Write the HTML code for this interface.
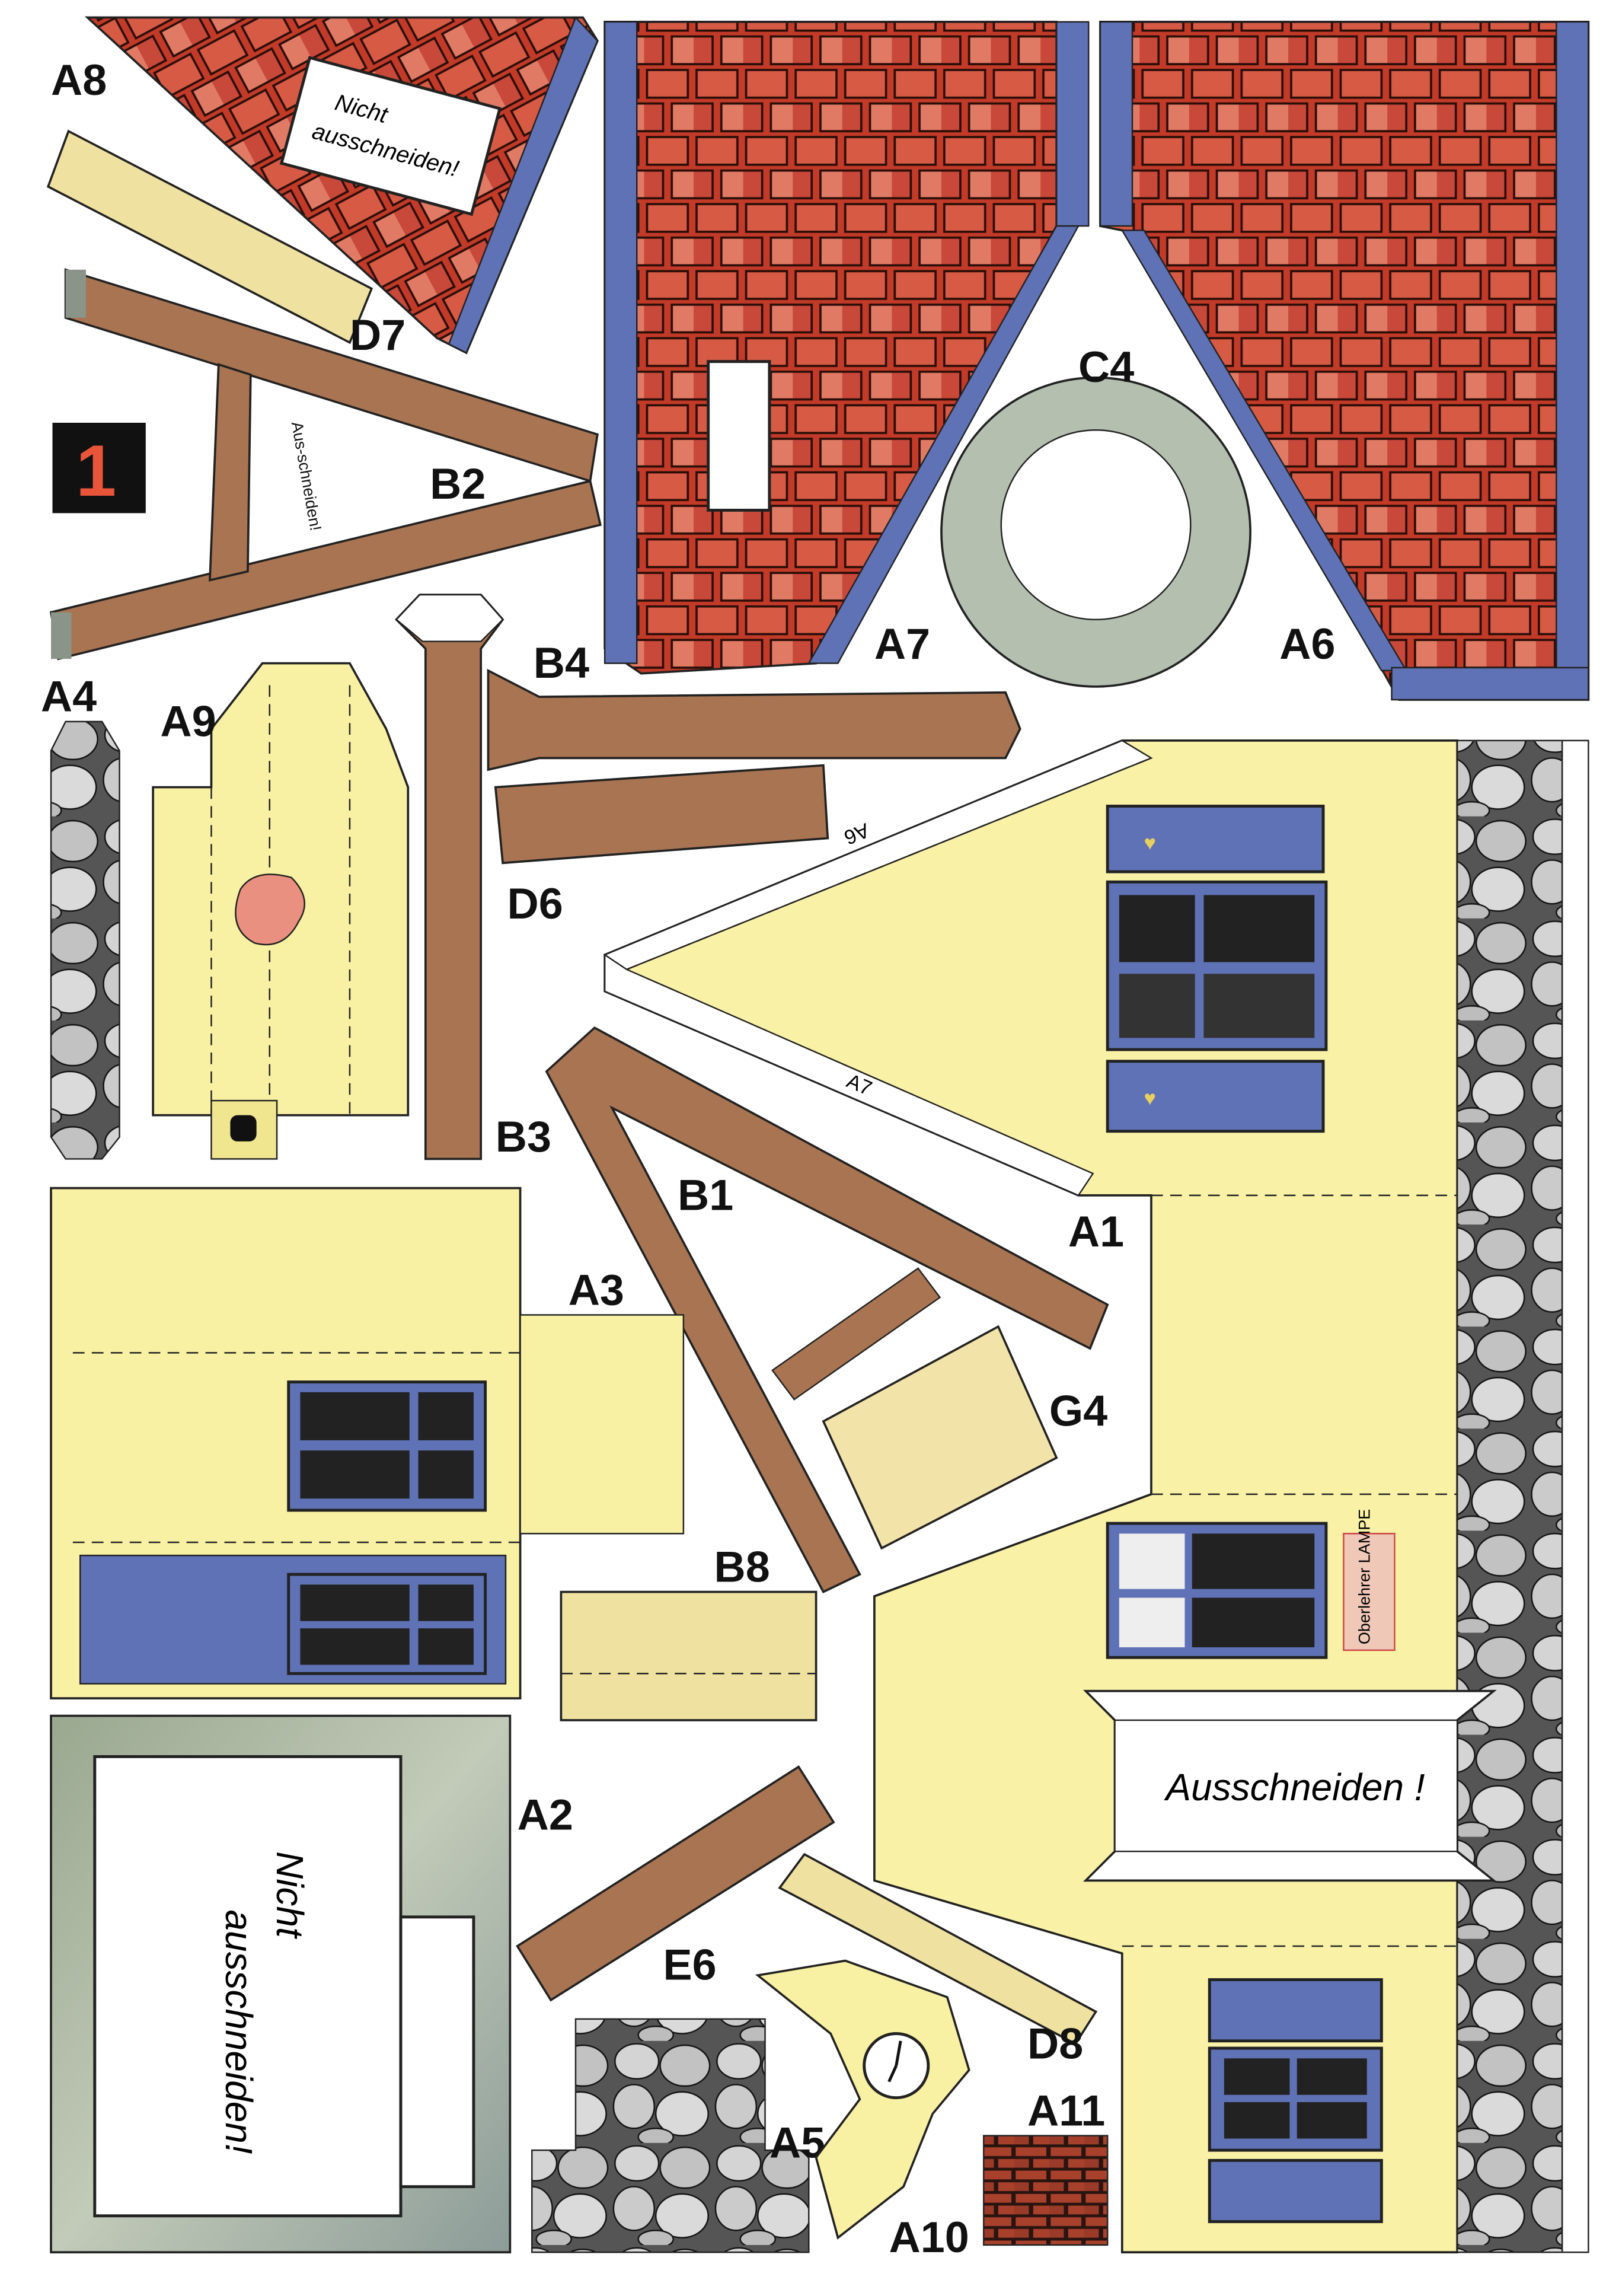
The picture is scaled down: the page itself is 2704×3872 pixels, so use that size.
<!DOCTYPE html>
<html><head><meta charset="utf-8"><style>
html,body{margin:0;padding:0;background:#fff;}
svg{display:block;}
text{font-family:"Liberation Sans",sans-serif;}
.lbl{font-size:30px;font-weight:bold;fill:#111;}
.sm{font-size:11px;fill:#111;}
</style></head><body>
<svg width="2704" height="3872" viewBox="0 0 1100 1575" preserveAspectRatio="none" xmlns="http://www.w3.org/2000/svg">
<defs>
<pattern id="tile" width="34" height="46" patternUnits="userSpaceOnUse">
<rect width="34" height="46" fill="#c23a28"/>
<rect x="2" y="2" width="28" height="19" fill="#d65a44" stroke="#2a0e08" stroke-width="1.5"/>
<rect x="-15" y="25" width="28" height="19" fill="#c8483a" stroke="#2a0e08" stroke-width="1.5"/>
<rect x="19" y="25" width="28" height="19" fill="#e07a64" stroke="#2a0e08" stroke-width="1.5"/>
</pattern>
<pattern id="tile2" width="34" height="46" patternUnits="userSpaceOnUse" patternTransform="rotate(-28)">
<rect width="34" height="46" fill="#c23a28"/>
<rect x="2" y="2" width="28" height="19" fill="#d65a44" stroke="#2a0e08" stroke-width="1.5"/>
<rect x="-15" y="25" width="28" height="19" fill="#c8483a" stroke="#2a0e08" stroke-width="1.5"/>
<rect x="19" y="25" width="28" height="19" fill="#e07a64" stroke="#2a0e08" stroke-width="1.5"/>
</pattern>
<pattern id="stone" width="70" height="70" patternUnits="userSpaceOnUse">
<rect width="70" height="70" fill="#555"/>
<ellipse cx="17" cy="14" rx="15" ry="12" fill="#d4d4d4" stroke="#111"/>
<ellipse cx="50" cy="17" rx="17" ry="14" fill="#c2c2c2" stroke="#111"/>
<ellipse cx="15" cy="45" rx="14" ry="15" fill="#cbcbcb" stroke="#111"/>
<ellipse cx="48" cy="50" rx="18" ry="15" fill="#dadada" stroke="#111"/>
<ellipse cx="30" cy="66" rx="12" ry="6" fill="#bdbdbd" stroke="#111"/>
</pattern>
<pattern id="brick" width="24" height="16" patternUnits="userSpaceOnUse">
<rect width="24" height="16" fill="#2a1410"/>
<rect x="1" y="1" width="21" height="6" fill="#a8412c"/>
<rect x="-11" y="9" width="21" height="6" fill="#9a3a28"/>
<rect x="13" y="9" width="21" height="6" fill="#a8412c"/>
</pattern>
<linearGradient id="a2g" x1="0" y1="0" x2="1" y2="1">
<stop offset="0" stop-color="#9aa890"/><stop offset="0.5" stop-color="#c2cab8"/><stop offset="1" stop-color="#8c9c98"/>
</linearGradient>
</defs>

<!-- A8 roof -->
<polygon points="60,12 400,12 410,28 320,242 300,232" fill="url(#tile2)" stroke="#222" stroke-width="1.5"/>
<polygon points="395,12 410,28 320,242 308,236" fill="#5f72b5" stroke="#222"/>
<g transform="rotate(15 265 95)"><rect x="200" y="55" width="135" height="75" fill="#fff" stroke="#222" stroke-width="2"/>
<text x="225" y="85" font-size="16" font-style="italic">Nicht</text><text x="215" y="108" font-size="16" font-style="italic">ausschneiden!</text></g>
<text x="35" y="65" class="lbl">A8</text>
<!-- D7 -->
<polygon points="47,90 255,198 240,235 33,128" fill="#efe2a0" stroke="#222" stroke-width="1.5"/>
<text x="240" y="240" class="lbl" font-size="26">D7</text>
<!-- B2 -->
<polygon points="45,185 410,298 405,330 45,218" fill="#a87451" stroke="#222" stroke-width="1.5"/>
<polygon points="35,420 405,330 412,360 40,452" fill="#a87451" stroke="#222" stroke-width="1.5"/>
<polygon points="150,250 172,257 170,392 144,398" fill="#a87451" stroke="#222" stroke-width="1.5"/>
<rect x="45" y="185" width="14" height="33" fill="#8a9488"/>
<rect x="35" y="420" width="14" height="32" fill="#8a9488"/>
<text x="295" y="342" class="lbl">B2</text>
<text x="200" y="290" class="sm" transform="rotate(80 200 290)">Aus-schneiden!</text>
<rect x="36" y="290" width="64" height="62" fill="#111"/>
<text x="52" y="340" font-size="50" font-weight="bold" fill="#e8553a">1</text>

<!-- A7 roof -->
<polygon points="415,15 725,15 725,155 560,455 440,462 415,445" fill="url(#tile)" stroke="#222" stroke-width="1.5"/>
<rect x="415" y="15" width="22" height="440" fill="#5f72b5" stroke="#222"/>
<polygon points="725,155 740,155 575,455 555,455" fill="#5f72b5" stroke="#222"/>
<rect x="725" y="15" width="22" height="140" fill="#5f72b5" stroke="#222"/>
<rect x="486" y="248" width="42" height="102" fill="#fff" stroke="#222" stroke-width="2"/>
<text x="600" y="452" class="lbl">A7</text>
<!-- A6 roof -->
<polygon points="755,15 1090,15 1090,480 960,480 780,160 755,155" fill="url(#tile)" stroke="#222" stroke-width="1.5"/>
<rect x="1068" y="15" width="22" height="465" fill="#5f72b5" stroke="#222"/>
<rect x="755" y="15" width="22" height="140" fill="#5f72b5" stroke="#222"/>
<polygon points="770,158 785,158 965,460 948,460" fill="#5f72b5" stroke="#222"/>
<rect x="955" y="458" width="135" height="22" fill="#5f72b5" stroke="#222"/>
<text x="878" y="452" class="lbl">A6</text>
<!-- C4 -->
<circle cx="752" cy="365" r="106" fill="#b4bfb0" stroke="#222" stroke-width="1.5"/>
<circle cx="752" cy="360" r="65" fill="#fff" stroke="#222"/>
<text x="740" y="262" class="lbl" font-size="28">C4</text>

<!-- A4 stone strip -->
<polygon points="45,495 70,495 82,515 82,780 70,795 45,795 35,780 35,515" fill="url(#stone)" stroke="#222"/>
<text x="28" y="488" class="lbl" font-size="26">A4</text>
<!-- A9 -->
<polygon points="105,540 145,540 145,500 180,455 240,455 265,500 280,540 280,765 105,765" fill="#f8f0a2" stroke="#222" stroke-width="1.5"/>
<line x1="145" y1="540" x2="145" y2="765" stroke="#222" stroke-dasharray="8,5"/>
<line x1="185" y1="470" x2="185" y2="765" stroke="#222" stroke-dasharray="8,5"/>
<line x1="240" y1="470" x2="240" y2="765" stroke="#222" stroke-dasharray="8,5"/>
<path d="M165,610 q10,-15 35,-8 q15,15 5,30 q-10,20 -30,15 q-20,-10 -10,-37z" fill="#e99080" stroke="#222"/>
<rect x="145" y="755" width="45" height="40" fill="#f0e690" stroke="#222"/>
<rect x="158" y="765" width="18" height="18" fill="#111" rx="5"/>
<text x="110" y="505" class="lbl" font-size="28">A9</text>

<!-- B3/B4 -->
<polygon points="272,425 288,408 330,408 345,425 330,445 330,795 292,795 292,445" fill="#a87451" stroke="#222" stroke-width="1.5"/>
<polygon points="272,425 288,408 330,408 345,425 330,440 290,440" fill="#fff" stroke="#222"/>
<polygon points="335,460 370,478 690,475 700,500 690,520 370,520 335,528" fill="#a87451" stroke="#222" stroke-width="1.5"/>
<text x="366" y="465" class="lbl">B4</text>
<text x="340" y="790" class="lbl">B3</text>
<polygon points="340,540 565,525 568,575 345,592" fill="#a87451" stroke="#222" stroke-width="1.5"/>
<text x="348" y="630" class="lbl">D6</text>

<!-- big right panel -->
<polygon points="415,655 770,508 1000,508 1000,1545 770,1545 770,1340 600,1290 600,1095 790,1025 790,820 740,820 415,680" fill="#f9f1a6" stroke="#222" stroke-width="1.5"/>
<polygon points="415,655 770,508 790,520 430,665" fill="#fff" stroke="#222"/>
<polygon points="415,655 430,665 750,805 740,820 415,680" fill="#fff" stroke="#222"/>
<line x1="430" y1="665" x2="790" y2="520" stroke="#222" stroke-dasharray="8,5"/>
<text x="570" y="585" font-size="14" transform="rotate(-22 570 585) rotate(180 585 580)">A6</text>
<text x="580" y="745" font-size="14" transform="rotate(23 580 745)">A7</text>
<line x1="790" y1="820" x2="1000" y2="820" stroke="#222" stroke-dasharray="8,5"/>
<line x1="790" y1="1025" x2="1000" y2="1025" stroke="#222" stroke-dasharray="8,5"/>
<line x1="770" y1="1335" x2="1000" y2="1335" stroke="#222" stroke-dasharray="8,5"/>
<rect x="1000" y="508" width="72" height="1037" fill="url(#stone)" stroke="#222"/>
<rect x="1072" y="508" width="18" height="1037" fill="#fff" stroke="#222"/>
<!-- windows top -->
<rect x="760" y="553" width="148" height="45" fill="#5f72b5" stroke="#222" stroke-width="2"/>
<text x="785" y="583" font-size="14" fill="#e8d060">♥</text>
<rect x="760" y="605" width="150" height="115" fill="#5f72b5" stroke="#222" stroke-width="2"/>
<rect x="768" y="614" width="52" height="46" fill="#222"/><rect x="826" y="614" width="76" height="46" fill="#222"/>
<rect x="768" y="668" width="52" height="44" fill="#333"/><rect x="826" y="668" width="76" height="44" fill="#333"/>
<rect x="760" y="728" width="148" height="48" fill="#5f72b5" stroke="#222" stroke-width="2"/>
<text x="785" y="758" font-size="14" fill="#e8d060">♥</text>
<!-- middle window -->
<rect x="760" y="1045" width="150" height="92" fill="#5f72b5" stroke="#222" stroke-width="2"/>
<rect x="768" y="1052" width="45" height="38" fill="#eee"/><rect x="818" y="1052" width="84" height="38" fill="#222"/>
<rect x="768" y="1096" width="45" height="34" fill="#eee"/><rect x="818" y="1096" width="84" height="34" fill="#222"/>
<rect x="922" y="1052" width="35" height="80" fill="#f0c8b8" stroke="#c44"/>
<text x="940" y="1128" font-size="11" transform="rotate(-90 940 1128)">Oberlehrer LAMPE</text>
<!-- cutout -->
<polygon points="745,1160 1025,1160 1000,1180 1000,1270 1025,1290 745,1290 765,1270 765,1180" fill="#fff" stroke="#222" stroke-width="1.5"/>
<rect x="765" y="1180" width="235" height="90" fill="#fff" stroke="#222"/>
<text x="800" y="1235" font-size="26" font-style="italic">Ausschneiden !</text>
<!-- bottom windows -->
<rect x="830" y="1358" width="118" height="42" fill="#5f72b5" stroke="#222" stroke-width="2"/>
<rect x="830" y="1405" width="118" height="70" fill="#5f72b5" stroke="#222" stroke-width="2"/>
<rect x="840" y="1412" width="45" height="25" fill="#222"/><rect x="890" y="1412" width="48" height="25" fill="#222"/>
<rect x="840" y="1442" width="45" height="25" fill="#222"/><rect x="890" y="1442" width="48" height="25" fill="#222"/>
<rect x="830" y="1482" width="118" height="42" fill="#5f72b5" stroke="#222" stroke-width="2"/>
<text x="733" y="855" class="lbl" font-size="26">A1</text>

<!-- B1 -->
<polygon points="375,735 408,705 760,895 748,925 420,760 590,1080 565,1092" fill="#a87451" stroke="#222" stroke-width="1.5"/>
<polygon points="530,940 630,870 645,890 545,960" fill="#a87451" stroke="#222"/>
<text x="465" y="830" class="lbl">B1</text>
<!-- G4 -->
<polygon points="565,975 685,910 725,1000 605,1062" fill="#f2e3a8" stroke="#222" stroke-width="1.5"/>
<text x="720" y="978" class="lbl" font-size="26">G4</text>

<!-- A3 -->
<rect x="35" y="815" width="322" height="350" fill="#f8f0a2" stroke="#222" stroke-width="1.5"/>
<rect x="357" y="902" width="112" height="150" fill="#f8f0a2" stroke="#222"/>
<line x1="50" y1="928" x2="357" y2="928" stroke="#222" stroke-dasharray="8,5"/>
<line x1="50" y1="1058" x2="357" y2="1058" stroke="#222" stroke-dasharray="8,5"/>
<rect x="55" y="1067" width="292" height="88" fill="#5f72b5" stroke="#222"/>
<rect x="198" y="948" width="135" height="88" fill="#5f72b5" stroke="#222" stroke-width="2"/>
<rect x="206" y="955" width="75" height="33" fill="#222"/><rect x="287" y="955" width="38" height="33" fill="#222"/>
<rect x="206" y="995" width="75" height="33" fill="#222"/><rect x="287" y="995" width="38" height="33" fill="#222"/>
<rect x="198" y="1080" width="135" height="68" fill="#5f72b5" stroke="#222" stroke-width="2"/>
<rect x="206" y="1087" width="75" height="25" fill="#222"/><rect x="287" y="1087" width="38" height="25" fill="#222"/>
<rect x="206" y="1117" width="75" height="25" fill="#222"/><rect x="287" y="1117" width="38" height="25" fill="#222"/>
<text x="390" y="895" class="lbl">A3</text>
<!-- B8 -->
<rect x="385" y="1092" width="175" height="88" fill="#efe2a0" stroke="#222" stroke-width="1.5"/>
<line x1="385" y1="1148" x2="560" y2="1148" stroke="#222" stroke-dasharray="8,5"/>
<text x="490" y="1085" class="lbl">B8</text>
<!-- A2 -->
<rect x="35" y="1177" width="315" height="368" fill="url(#a2g)" stroke="#222" stroke-width="1.5"/>
<rect x="65" y="1205" width="210" height="315" fill="#fff" stroke="#222" stroke-width="2"/>
<rect x="275" y="1315" width="50" height="185" fill="#fff" stroke="#222" stroke-width="2"/>
<text x="155" y="1310" font-size="26" font-style="italic" transform="rotate(90 155 1310)">ausschneiden!</text>
<text x="190" y="1270" font-size="26" font-style="italic" transform="rotate(90 190 1270)">Nicht</text>
<text x="355" y="1255" class="lbl">A2</text>
<!-- E6 -->
<polygon points="355,1335 548,1212 572,1250 378,1372" fill="#a87451" stroke="#222" stroke-width="1.5"/>
<text x="455" y="1358" class="lbl">E6</text>
<!-- D8 -->
<polygon points="552,1272 752,1380 738,1402 535,1295" fill="#efe2a0" stroke="#222" stroke-width="1.5"/>
<text x="705" y="1412" class="lbl" font-size="26">D8</text>
<!-- stones bottom -->
<polygon points="395,1385 525,1385 525,1475 555,1475 555,1545 365,1545 365,1475 395,1475" fill="url(#stone)" stroke="#222"/>
<text x="528" y="1480" class="lbl" font-size="26">A5</text>
<!-- A10 -->
<polygon points="520,1355 580,1345 650,1370 665,1420 640,1450 620,1500 575,1535 560,1480 590,1440 570,1395" fill="#f8f0a2" stroke="#222" stroke-width="1.5"/>
<circle cx="615" cy="1417" r="22" fill="#fff" stroke="#222" stroke-width="2"/>
<line x1="615" y1="1417" x2="618" y2="1400" stroke="#111" stroke-width="2"/>
<line x1="615" y1="1417" x2="610" y2="1428" stroke="#111" stroke-width="2"/>
<text x="610" y="1545" class="lbl" font-size="28">A10</text>
<!-- A11 -->
<rect x="675" y="1465" width="85" height="75" fill="url(#brick)" stroke="#222"/>
<text x="705" y="1458" class="lbl" font-size="28">A11</text>
</svg>
</body></html>
